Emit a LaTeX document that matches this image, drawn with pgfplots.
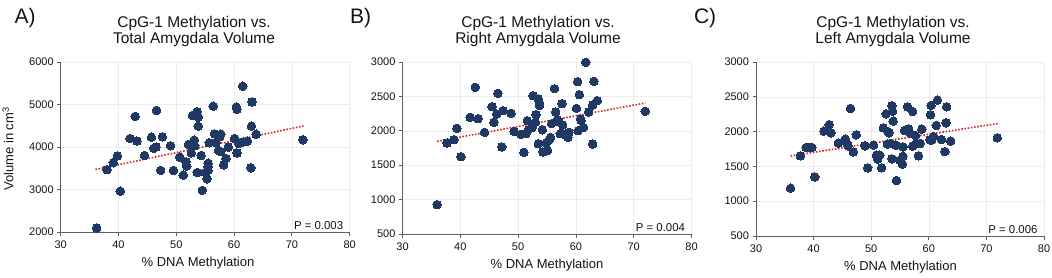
\documentclass[border=0pt]{standalone}
\usepackage{pgfplots}
\pgfplotsset{compat=1.18}
\usepackage{fontspec}
\setmainfont{Liberation Sans}
\definecolor{navy}{RGB}{31,56,100}
\definecolor{trend}{RGB}{210,40,40}
\definecolor{axgray}{RGB}{95,95,95}
\definecolor{gridgray}{RGB}{236,236,236}
\definecolor{txt}{RGB}{20,20,20}
\pgfplotsset{
  panel/.style={
    scale only axis, width=289pt,
    xmin=30, xmax=80, xtick={30,40,...,80},
    axis lines*=left,
    axis line style={axgray, line width=0.8pt},
    tick style={axgray, line width=0.8pt},
    tick align=outside, major tick length=3.5pt,
    xmajorgrids, ymajorgrids, grid style={gridgray, line width=0.6pt},
    tick label style={font=\fontsize{11}{11}\selectfont, text=txt},
    xticklabel style={yshift=-1.5pt},
    /pgf/number format/assume math mode=true,
    /pgf/number format/1000 sep={},
    clip=false,
  },
  pts/.style={only marks, mark=*, mark size=4.3pt,
    mark options={fill=navy, draw=navy, line width=0pt}},
  fit/.style={trend, line width=1.6pt, dash pattern=on 1.6pt off 1.6pt, no marks},
}
\tikzset{pval/.style={anchor=base east, xshift=-3pt, yshift=3pt, font=\fontsize{11.4}{11.4}\selectfont, text=txt}}
\begin{document}
\begin{tikzpicture}
\useasboundingbox (0,0) rectangle (1052pt,-278pt);
% ---------------- Panel A ----------------
\begin{axis}[panel, at={(60.7pt,-232pt)}, anchor=south west, height=170pt,
  ymin=2000, ymax=6000, ytick={2000,3000,...,6000}]
\addplot[pts] coordinates {
(36.2,2094) (38.0,3467) (39.1,3630) (39.8,3790) (40.3,2960) (42.0,4200)
(42.9,4720) (43.2,4140) (44.5,3800) (45.7,4230) (46.1,3970) (46.5,4000)
(46.6,4860) (47.3,3450) (47.6,4240) (49.0,4030) (49.5,3450) (50.6,3760)
(51.2,3340) (51.7,3650) (51.8,3550) (52.1,4060) (52.6,3860) (52.8,4740)
(53.1,4160) (53.2,4030) (53.5,4750) (53.6,4830) (53.6,3400) (53.8,4700)
(53.8,4490) (54.3,3800) (54.5,2980) (55.0,3400) (55.3,3250) (55.5,3450)
(55.5,3620) (55.5,3530) (55.7,4100) (56.4,4960) (56.6,4310) (56.9,4100)
(57.3,3920) (57.5,4240) (57.7,4300) (57.7,3890) (58.2,3580) (58.6,3730)
(59.0,4000) (60.1,4200) (60.4,4940) (60.5,4890) (60.5,3860) (60.8,4080)
(61.1,4100) (61.5,5430) (61.6,4120) (62.3,4140) (62.9,3510) (63.0,4490)
(63.1,5060) (63.8,4300) (71.9,4170)
};
\addplot[fit] coordinates {(36,3470) (72,4495)};
\node[pval] at (rel axis cs:1,0) {P = 0.003};
\end{axis}
% ---------------- Panel B ----------------
\begin{axis}[panel, at={(402.5pt,-234pt)}, anchor=south west, height=172pt,
  ymin=500, ymax=3000, ytick={500,1000,...,3000}]
\addplot[pts] coordinates {
(36.0,926) (37.7,1823) (38.9,1871) (39.4,2036) (40.1,1624) (41.7,2196)
(42.6,2632) (43.1,2176) (44.2,1978) (45.5,2351) (45.8,2123) (46.3,2244)
(46.5,2545) (47.2,1765) (47.4,2293) (48.8,2254) (49.3,1992) (50.5,1949)
(51.0,1687) (51.4,1958) (51.6,2147) (51.8,2016) (52.4,2045) (52.6,2511)
(53.0,2123) (53.1,2234) (53.5,2462) (53.5,1813) (53.7,2404) (53.7,2365)
(54.2,2016) (54.3,1692) (54.9,1823) (55.1,1711) (55.4,1871) (55.6,1905)
(55.8,2104) (56.3,2612) (56.5,2273) (56.8,2162) (57.1,2128) (57.3,1958)
(57.6,2394) (57.7,2084) (58.0,1949) (58.4,1958) (58.6,1905) (58.8,1978)
(60.1,2327) (60.3,2714) (60.4,2002) (60.6,2525) (60.8,2171) (60.9,2152)
(61.3,2050) (61.7,2995) (62.2,2273) (62.9,1808) (62.9,2375) (63.1,2719)
(63.7,2438) (72.0,2283)
};
\addplot[fit] coordinates {(36,1847) (72,2404)};
\node[pval] at (rel axis cs:1,0) {P = 0.004};
\end{axis}
% ---------------- Panel C ----------------
\begin{axis}[panel, at={(756pt,-236pt)}, anchor=south west, height=174pt, width=288pt,
  ymin=500, ymax=3000, ytick={500,1000,...,3000}]
\addplot[pts] coordinates {
(36.0,1186) (37.7,1652) (38.7,1772) (39.3,1772) (39.7,1772) (40.2,1349)
(41.8,2007) (42.7,2098) (43.0,1983) (44.3,1834) (45.5,1892) (45.7,1853)
(46.0,1796) (46.4,2333) (46.9,1709) (47.4,1954) (48.9,1796) (49.4,1479)
(50.4,1805) (50.9,1661) (51.1,1604) (51.5,1661) (51.8,1479) (52.1,2055)
(52.6,2256) (52.8,1820) (52.9,2002) (53.1,1983) (53.3,1829) (53.6,1608)
(53.6,2371) (53.7,2295) (53.8,2151) (54.3,1805) (54.4,1297) (55.0,1589)
(55.4,1532) (55.5,1647) (55.5,1781) (55.8,2016) (56.3,2357) (56.5,2040)
(56.7,1983) (57.2,2290) (57.2,1791) (57.7,1944) (57.8,1824) (58.2,1652)
(58.5,1829) (58.8,2036) (60.2,1882) (60.3,2242) (60.4,2376) (60.5,1877)
(60.8,1930) (61.3,2088) (61.5,2453) (62.2,1887) (62.8,1714) (63.0,2127)
(63.1,2357) (63.8,1863) (71.9,1911)
};
\addplot[fit] coordinates {(36,1650) (72,2117)};
\node[pval] at (rel axis cs:1,0) {P = 0.006};
\end{axis}
% ---------------- Text ----------------
\tikzset{ttl/.style={anchor=base, font=\fontsize{15.5}{17}\selectfont, text=txt},
         lbl/.style={anchor=base, font=\fontsize{13}{13}\selectfont, text=txt},
         pnl/.style={anchor=base west, font=\fontsize{21}{21}\selectfont, text=txt}}
\node[pnl] at (11pt,-24pt) {A)};
\node[pnl] at (346.5pt,-24pt) {B)};
\node[pnl] at (690.5pt,-24pt) {C)};
\node[ttl] at (194pt,-28pt) {CpG-1 Methylation vs.};
\node[ttl] at (194pt,-44pt) {Total Amygdala Volume};
\node[ttl] at (538pt,-28pt) {CpG-1 Methylation vs.};
\node[ttl] at (538pt,-44pt) {Right Amygdala Volume};
\node[ttl] at (893pt,-28pt) {CpG-1 Methylation vs.};
\node[ttl] at (893pt,-44pt) {Left Amygdala Volume};
\node[lbl] at (198pt,-266pt) {\% DNA Methylation};
\node[lbl] at (547pt,-268pt) {\% DNA Methylation};
\node[lbl] at (900.5pt,-270pt) {\% DNA Methylation};
\node[lbl, rotate=90] at (13.3pt,-149pt) {Volume in cm\textsuperscript{3}};
\end{tikzpicture}
\end{document}
